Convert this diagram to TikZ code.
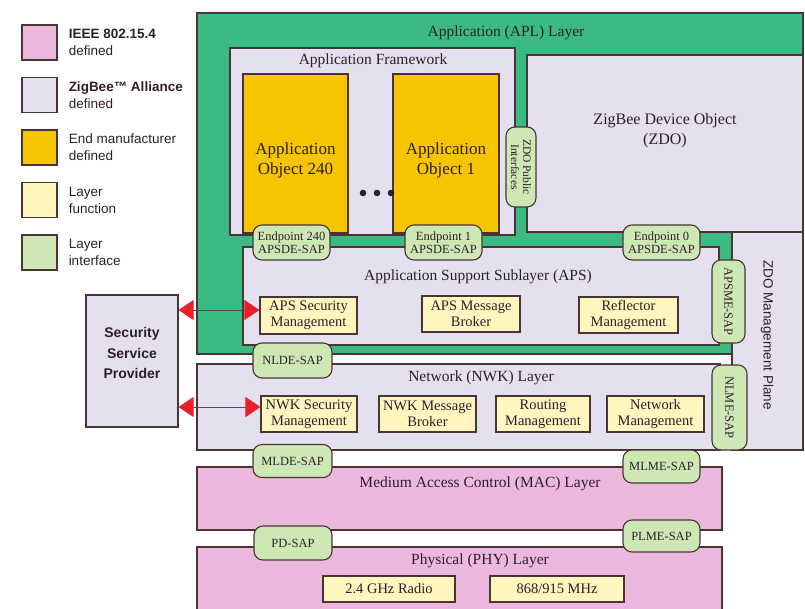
\documentclass[tikz,border=0pt]{standalone}
\usepackage{fontspec}
\setmainfont{Liberation Serif}
\setsansfont{Liberation Sans}
\usetikzlibrary{positioning, arrows.meta}
\definecolor{aplgreen}{HTML}{3CBA84}
\definecolor{zblavender}{HTML}{E4E0EF}
\definecolor{mfrorange}{HTML}{F7C400}
\definecolor{fnyellow}{HTML}{FFF5BE}
\definecolor{ifgreen}{HTML}{CDE8B4}
\definecolor{ieeepink}{HTML}{EDB8DE}
\definecolor{edgebrown}{HTML}{4A3434}
\definecolor{ink}{HTML}{2E1E2A}
\definecolor{tipred}{HTML}{E8202A}

\tikzset{
    box/.style={draw=edgebrown, line width=1.1pt, inner sep=0pt},
    layer/.style={box, fill=zblavender},
    func/.style={box, fill=fnyellow, align=center, text=ink,
                 font=\fontsize{14.5}{16}\selectfont},
    sap/.style={box, fill=ifgreen, rounded corners=9pt, align=center, text=ink,
                font=\fontsize{12.5}{13}\selectfont},
    title/.style={text=ink, font=\fontsize{15.5}{18}\selectfont},
    legbox/.style={box, minimum width=35pt, minimum height=35pt},
    legtext/.style={inner sep=0pt, align=left, text=ink,
                    font=\sffamily\fontsize{13.5}{17}\selectfont},
    secarrow/.style={draw=gray!60!black, line width=0.9pt,
                     {Triangle[length=15pt, width=20pt, color=tipred]}-{Triangle[length=15pt, width=20pt, color=tipred]}},
}

\begin{document}
\begin{tikzpicture}[x=1pt, y=-1pt]
    \useasboundingbox (0,0) rectangle (805,608);

    % legend
    \node[legbox, fill=ieeepink] (leg1) at (39.5,42.5) {};
    \node[legbox, fill=zblavender] (leg2) at (39.5,95) {};
    \node[legbox, fill=mfrorange] (leg3) at (39.5,147.5) {};
    \node[legbox, fill=fnyellow] (leg4) at (39.5,200) {};
    \node[legbox, fill=ifgreen] (leg5) at (39.5,252.5) {};
    \node[legtext, right=11pt of leg1] (legtxt1) {\textbf{IEEE 802.15.4}\\defined};
    \node[legtext, right=11pt of leg2] (legtxt2) {\textbf{ZigBee™ Alliance}\\defined};
    \node[legtext, right=11pt of leg3] (legtxt3) {End manufacturer\\defined};
    \node[legtext, right=11pt of leg4] (legtxt4) {Layer\\function};
    \node[legtext, right=11pt of leg5] (legtxt5) {Layer\\interface};

    % application layer
    \node[box, fill=aplgreen, minimum width=606pt, minimum height=341pt] (apl) at (500,183.5) {};
    \node[title] (apltitle) at (506,33) {Application (APL) Layer};
    \node[layer, minimum width=285pt, minimum height=187pt] (framework) at (372.5,141.5) {};
    \node[title] (fwtitle) at (373,61) {Application Framework};
    \node[layer, minimum width=276pt, minimum height=177pt] (zdo) at (665,143.5) {};
    \node[title, align=center, font=\fontsize{16}{20}\selectfont] (zdotxt) at (665,131) {ZigBee Device Object\\(ZDO)};
    \node[box, fill=mfrorange, minimum width=105pt, minimum height=159pt] (obj240) at (295.5,153.5) {};
    \node[title, align=center, font=\fontsize{17}{20}\selectfont] (obj240txt) at (295.5,160) {Application\\Object 240};
    \node[box, fill=mfrorange, minimum width=106pt, minimum height=159pt] (obj1) at (446,153.5) {};
    \node[title, align=center, font=\fontsize{17}{20}\selectfont] (obj1txt) at (446,160) {Application\\Object 1};
    \foreach \dx in {363,377,391}
        \fill[ink] (\dx,193) circle (3.3);
    \node[sap, rotate=-90, minimum width=80pt, minimum height=30pt,
          font=\fontsize{11.5}{12}\selectfont] (zdopub) at (521,167) {ZDO Public\\Interfaces};

    % management plane
    \node[layer, minimum width=71pt, minimum height=218pt] (mgmt) at (767.5,341) {};
    \node[rotate=-90, text=ink, font=\sffamily\fontsize{13.5}{16}\selectfont] (mgmttxt) at (767,335) {ZDO Management Plane};

    % APS
    \node[layer, minimum width=476pt, minimum height=98pt] (aps) at (481,296) {};
    \node[title] (apstitle) at (478,277) {Application Support Sublayer (APS)};
    \node[sap, minimum width=77pt, minimum height=35pt] (ep240) at (291.5,242.5) {Endpoint 240\\APSDE-SAP};
    \node[sap, minimum width=77pt, minimum height=35pt] (ep1) at (443.5,242.5) {Endpoint 1\\APSDE-SAP};
    \node[sap, minimum width=77pt, minimum height=35pt] (ep0) at (661.5,242.5) {Endpoint 0\\APSDE-SAP};
    \node[func, minimum width=97pt, minimum height=37pt] (apssec) at (308.5,315.5) {APS Security\\Management};
    \node[func, minimum width=98pt, minimum height=36pt] (apsmsg) at (471,314) {APS Message\\Broker};
    \node[func, minimum width=99pt, minimum height=36pt] (reflector) at (628.5,315) {Reflector\\Management};
    \node[sap, rotate=-90, minimum width=83pt, minimum height=33pt] (apsme) at (728.5,301.5) {APSME-SAP};

    % NWK
    \node[layer, minimum width=523pt, minimum height=86pt] (nwk) at (458.5,407) {};
    \node[title] (nwktitle) at (481,378) {Network (NWK) Layer};
    \node[sap, minimum width=79pt, minimum height=35pt] (nlde) at (292.5,360.5) {NLDE-SAP};
    \node[func, minimum width=96pt, minimum height=36pt] (nwksec) at (309,414) {NWK Security\\Management};
    \node[func, minimum width=97pt, minimum height=36pt] (nwkmsg) at (427.5,414) {NWK Message\\Broker};
    \node[func, minimum width=94pt, minimum height=36pt] (routing) at (543,414) {Routing\\Management};
    \node[func, minimum width=97pt, minimum height=36pt] (netmgmt) at (655.5,414) {Network\\Management};
    \node[sap, rotate=-90, minimum width=85pt, minimum height=35pt] (nlme) at (729.5,407.5) {NLME-SAP};

    % MAC
    \node[box, fill=ieeepink, minimum width=525pt, minimum height=63pt] (mac) at (459.5,498.5) {};
    \node[title] (mactitle) at (480,484) {Medium Access Control (MAC) Layer};
    \node[sap, minimum width=79pt, minimum height=33pt] (mlde) at (292.5,461) {MLDE-SAP};
    \node[sap, minimum width=77pt, minimum height=33pt] (mlme) at (661.5,466.5) {MLME-SAP};

    % PHY
    \node[box, fill=ieeepink, minimum width=525pt, minimum height=73pt] (phy) at (459.5,583.5) {};
    \node[title] (phytitle) at (480,561) {Physical (PHY) Layer};
    \node[sap, minimum width=78pt, minimum height=34pt] (pdsap) at (293,543) {PD-SAP};
    \node[sap, minimum width=77pt, minimum height=32pt] (plme) at (661.5,536) {PLME-SAP};
    \node[func, minimum width=132pt, minimum height=26pt] (radio24) at (389,589) {2.4 GHz Radio};
    \node[func, minimum width=134pt, minimum height=26pt] (radio868) at (557,589) {868/915 MHz};

    % security service provider
    \node[layer, minimum width=92pt, minimum height=132pt] (ssp) at (132,361) {};
    \node[align=center, text=ink, font=\sffamily\bfseries\fontsize{14}{20.5}\selectfont] (ssptxt) at (132,353) {Security\\Service\\Provider};
    \draw[secarrow] ([yshift=5.5pt]ssp.east |- apssec.west) -- ([yshift=5.5pt]apssec.west);
    \draw[secarrow] ([yshift=7pt]ssp.east |- nwksec.west) -- ([yshift=7pt]nwksec.west);
\end{tikzpicture}
\end{document}
